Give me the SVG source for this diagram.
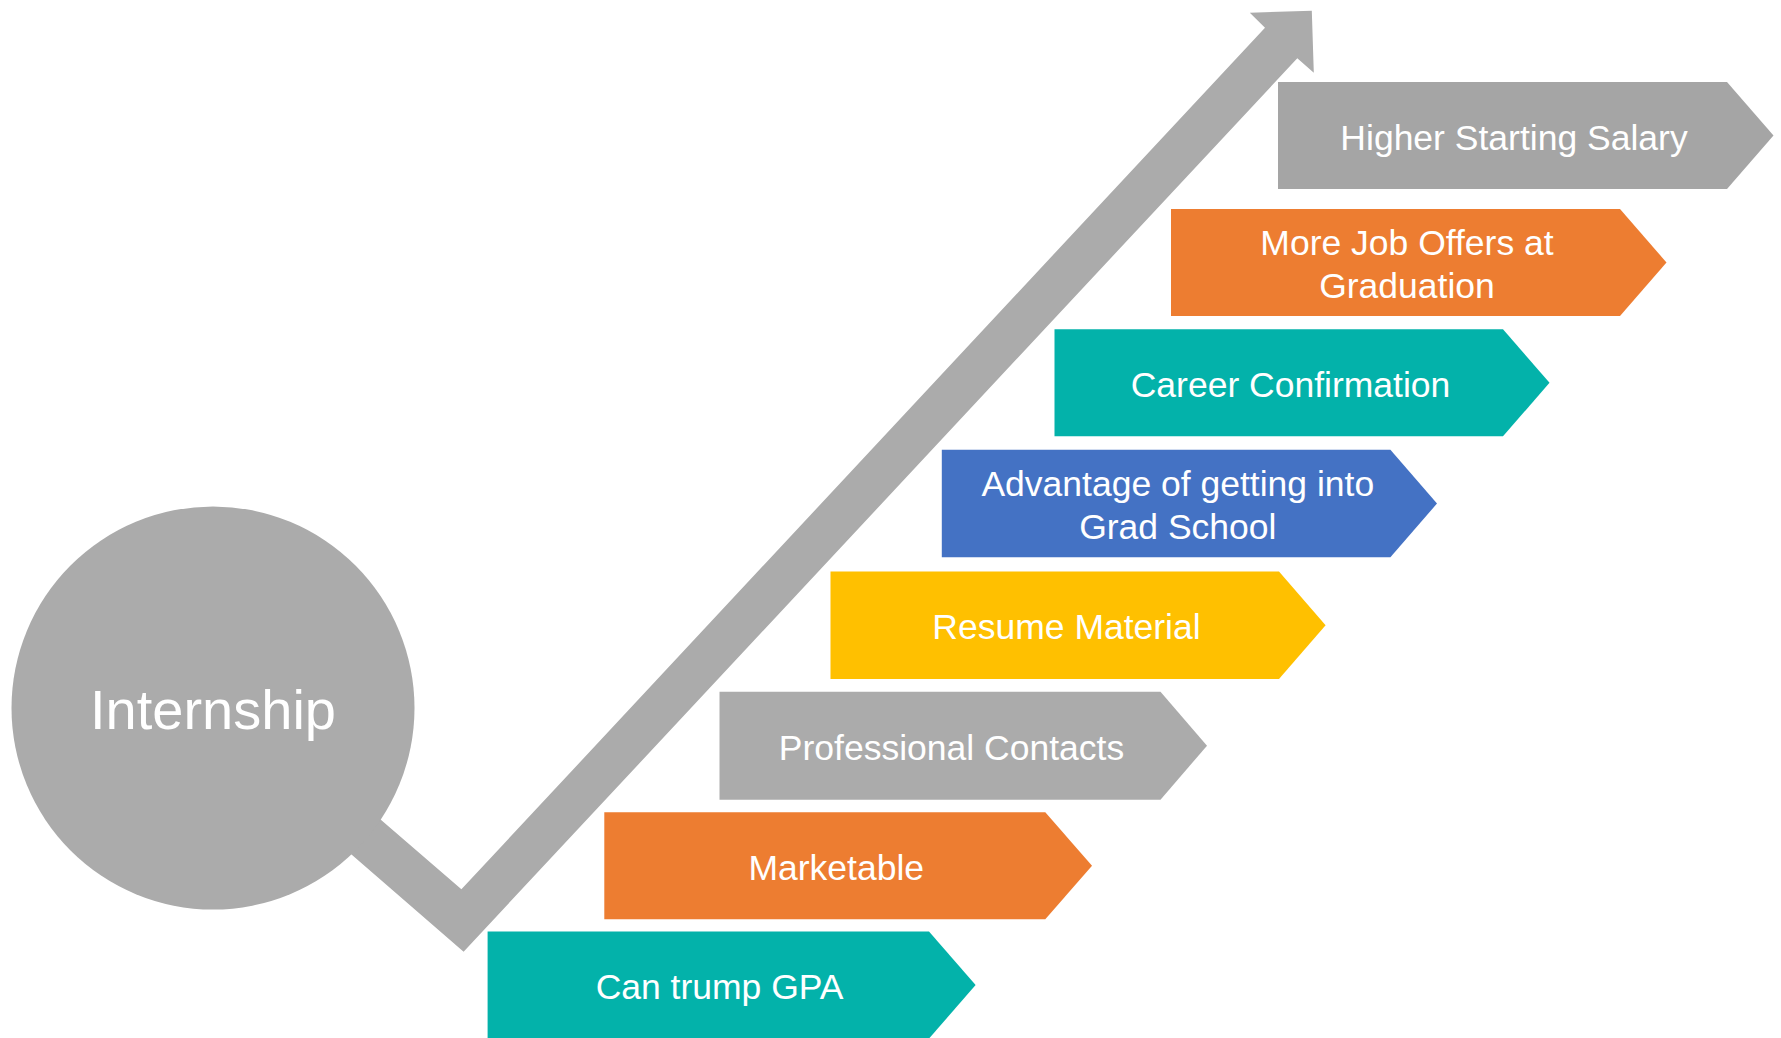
<svg xmlns="http://www.w3.org/2000/svg" width="1781" height="1038" viewBox="0 0 1781 1038">
<style>
.t{font-family:"Liberation Sans",Arial,sans-serif;font-size:35.5px;fill:#ffffff;text-anchor:middle}
.big{font-family:"Liberation Sans",Arial,sans-serif;font-size:56px;fill:#ffffff;text-anchor:middle}
.gray{fill:#A5A5A5}.gray2{fill:#ABABAB}.orange{fill:#ED7D31}.teal{fill:#03B2AA}.blue{fill:#4472C4}.yellow{fill:#FFC000}
</style>
<rect width="1781" height="1038" fill="#ffffff"/>
<g id="connectors">
<polygon class="gray2" points="300,750 461.4,889.3 1265,27.7 1249.8,12.7 1311.8,10.7 1313.8,72.7 1297.3,58.3 463.6,951.7 280,792.4"/>
</g>
<g id="internship">
<circle class="gray2" cx="213" cy="708" r="201.5"/>
<text class="big" x="213" y="729">Internship</text>
</g>
<g id="higher-salary">
<polygon class="gray" points="1278,82 1727,82 1773.5,135.5 1727,189 1278,189"/>
<text class="t" x="1514" y="149.5">Higher Starting Salary</text>
</g>
<g id="more-job-offers">
<polygon class="orange" points="1171,209 1620,209 1666.5,262.5 1620,316 1171,316"/>
<text class="t" x="1407" y="254.5">More Job Offers at</text>
<text class="t" x="1407" y="297.5">Graduation</text>
</g>
<g id="career-confirmation">
<polygon class="teal" points="1054.5,329.3 1503,329.3 1549.5,382.8 1503,436.3 1054.5,436.3"/>
<text class="t" x="1290.5" y="396.5">Career Confirmation</text>
</g>
<g id="grad-school">
<polygon class="blue" points="941.8,449.8 1390.4,449.8 1437,503.5 1390.4,557.2 941.8,557.2"/>
<text class="t" x="1177.8" y="495.5">Advantage of getting into</text>
<text class="t" x="1177.8" y="538.5">Grad School</text>
</g>
<g id="resume-material">
<polygon class="yellow" points="830.5,571.5 1279,571.5 1325.6,625.3 1279,679 830.5,679"/>
<text class="t" x="1066.5" y="639">Resume Material</text>
</g>
<g id="professional-contacts">
<polygon class="gray2" points="719.5,691.7 1160.5,691.7 1207,745.7 1160.5,799.7 719.5,799.7"/>
<text class="t" x="951.5" y="759.5">Professional Contacts</text>
</g>
<g id="marketable">
<polygon class="orange" points="604.3,812.3 1045.3,812.3 1092,865.8 1045.3,919.3 604.3,919.3"/>
<text class="t" x="836.3" y="879.5">Marketable</text>
</g>
<g id="can-trump-gpa">
<polygon class="teal" points="487.6,931.4 929,931.4 975.6,985 929,1038.6 487.6,1038.6"/>
<text class="t" x="719.6" y="998.5">Can trump GPA</text>
</g>
</svg>
